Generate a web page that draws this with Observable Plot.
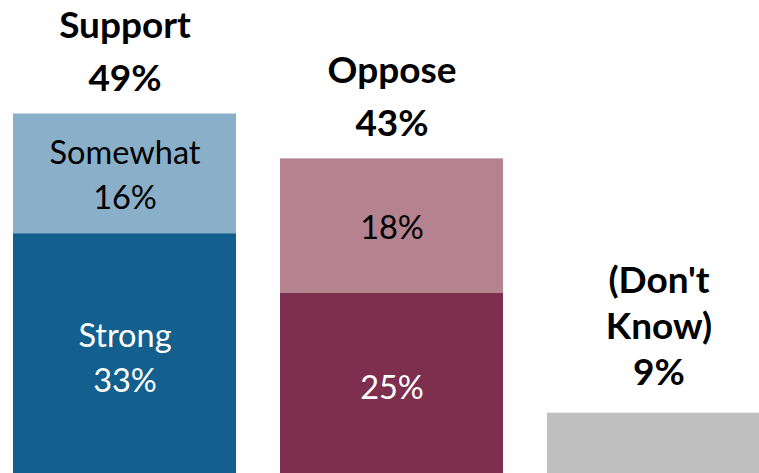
<!DOCTYPE html>
<html><head><meta charset="utf-8">
<script src="https://cdn.jsdelivr.net/npm/d3@7"></script>
<script src="https://cdn.jsdelivr.net/npm/@observablehq/plot@0.6"></script>
<style>html,body{margin:0;padding:0;background:#fff;overflow:hidden;}</style>
</head><body><div id="chart"></div>
<script>
const categories = ["Support", "Oppose", "Don't Know"];
const segmentCategory = ["Support", "Support", "Oppose", "Oppose", "Don't Know"];
const segmentLevel = ["Strong support", "Somewhat support", "Strong oppose", "Somewhat oppose", "Don't know"];
const segmentValues = [33, 16, 25, 18, 9];
const segmentLabels = ["Strong\n33%", "Somewhat\n16%", "25%", "18%", ""];
const segmentLabelColor = ["white", "black", "white", "black", "black"];
const totalLabels = ["Support\n49%", "Oppose\n43%", "(Don't\nKnow)\n9%"];
const totalValues = [49, 43, 9];
const levelColors = ["#135f8e", "#8aafc9", "#7e2f4e", "#b4838f", "#bfbfbf"];

const segments = segmentValues.map((v, i) => ({
  category: segmentCategory[i], level: segmentLevel[i], value: v,
  label: segmentLabels[i], color: segmentLabelColor[i]
}));
const totals = totalValues.map((v, i) => ({category: categories[i], value: v, label: totalLabels[i]}));

const font = "Lato, 'Open Sans', sans-serif";
const chart = Plot.plot({
  width: 759, height: 473,
  marginTop: 0, marginBottom: 0, marginLeft: 0, marginRight: 0,
  style: {fontFamily: font, background: "white"},
  x: {type: "band", domain: categories, range: [13, 770], paddingInner: 0.165, paddingOuter: 0, axis: null},
  y: {domain: [0, 49], range: [480, 113.5], axis: null},
  color: {domain: segmentLevel, range: levelColors},
  marks: [
    Plot.barY(segments, {x: "category", y: "value", fill: "level"}),
    Plot.text(segments, Plot.stackY({x: "category", y: "value",
      text: d => d.color === "white" ? d.label : "", fill: "white", dy: -2,
      fontSize: 32.5, lineHeight: 1.38, lineAnchor: "middle", fontFamily: font})),
    Plot.text(segments, Plot.stackY({x: "category", y: "value",
      text: d => d.color === "black" ? d.label : "", fill: "black", dy: -2,
      fontSize: 32.5, lineHeight: 1.38, lineAnchor: "middle", fontFamily: font})),
    Plot.text(totals, {x: "category", y: "value", text: d => d.category !== "Don't Know" ? d.label : "",
      fontSize: 37, fontWeight: "bold", lineHeight: 1.42, lineAnchor: "bottom", dy: -23, fill: "black", fontFamily: font}),
    Plot.text(totals, {x: "category", y: "value", text: d => d.category === "Don't Know" ? d.label : "",
      fontSize: 37, fontWeight: "bold", lineHeight: 1.25, lineAnchor: "bottom", dy: -28, fill: "black", fontFamily: font})
  ]
});
document.getElementById("chart").appendChild(chart);
</script>
</body></html>
